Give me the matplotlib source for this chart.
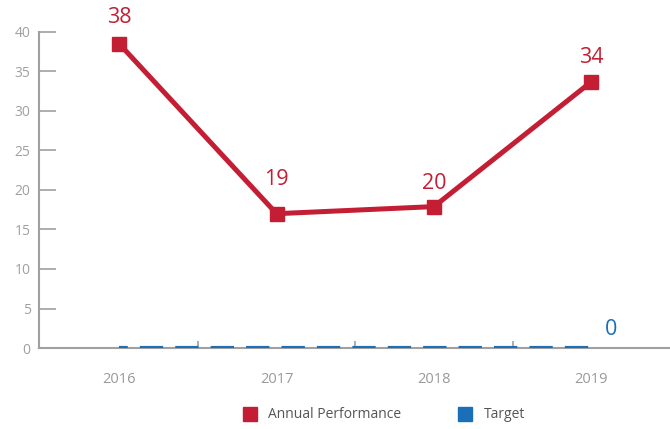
import matplotlib
matplotlib.use("Agg")
import matplotlib.pyplot as plt
from matplotlib.lines import Line2D

years = ["2016", "2017", "2018", "2019"]
performance = [38.5, 17.0, 17.9, 33.7]
perf_labels = ["38", "19", "20", "34"]
target = [0, 0, 0, 0]
target_label = "0"
yticks = [0, 5, 10, 15, 20, 25, 30, 35, 40]

RED = "#C41E35"
BLUE = "#1B6FB8"
GRAY = "#A0A0A0"
TXT = "#A0A0A0"

plt.rcParams["font.family"] = ["Open Sans", "DejaVu Sans"]

fig = plt.figure(figsize=(6.7, 4.29), dpi=100)
ax = fig.add_axes([39/670, 81/429, (670-39)/670, (348-32)/429])

x = list(range(len(years)))
ax.plot(x, target, color=BLUE, lw=3, linestyle=(3.5, (5.6, 2.9)),
        solid_capstyle="butt", dash_capstyle="butt", zorder=3)
ax.plot(x, performance, color=RED, lw=3.6, marker="s", markersize=10,
        zorder=4)

offsets = [18.7, 24.5, 16.5, 17.3]
for xi, v, lab, off in zip(x, performance, perf_labels, offsets):
    ax.annotate(lab, (xi, v), xytext=(0, off), textcoords="offset points",
                ha="center", va="center", color=RED, fontsize=15.5)
ax.annotate(target_label, (x[-1], target[-1]), xytext=(14.4, 13),
            textcoords="offset points", ha="center", va="center",
            color=BLUE, fontsize=15.5)

ax.set_xlim(-0.51, 3.50)
ax.set_ylim(0, 40)
ax.set_yticks(yticks)
ax.set_xticks(x)
ax.set_xticklabels(years)
ax.set_xticks([0.5, 1.5, 2.5], minor=True)

for s in ["top", "right"]:
    ax.spines[s].set_visible(False)
for s in ["left", "bottom"]:
    ax.spines[s].set_color(GRAY)
    ax.spines[s].set_linewidth(1.5)

ax.tick_params(axis="y", direction="in", length=12, width=1.2, color=GRAY,
               labelcolor=TXT, labelsize=10, pad=6)
ax.tick_params(axis="x", which="major", length=0, labelcolor="#999999",
               labelsize=10.5, pad=17)
ax.tick_params(axis="x", which="minor", direction="in", length=5,
               width=1.2, color=GRAY)
for lbl in ax.get_xticklabels():
    lbl.set_fontweight("medium")

handles = [Line2D([], [], color=RED, marker="s", linestyle="none", markersize=10),
           Line2D([], [], color=BLUE, marker="s", linestyle="none", markersize=10)]
fig.legend(handles, ["Annual Performance", "Target"], loc="center",
           bbox_to_anchor=(0.568, 1 - 415/429), ncol=2, frameon=False,
           fontsize=10, handletextpad=0.3, columnspacing=3.6,
           labelcolor="#555555")

fig.savefig("out.png", dpi=100)
